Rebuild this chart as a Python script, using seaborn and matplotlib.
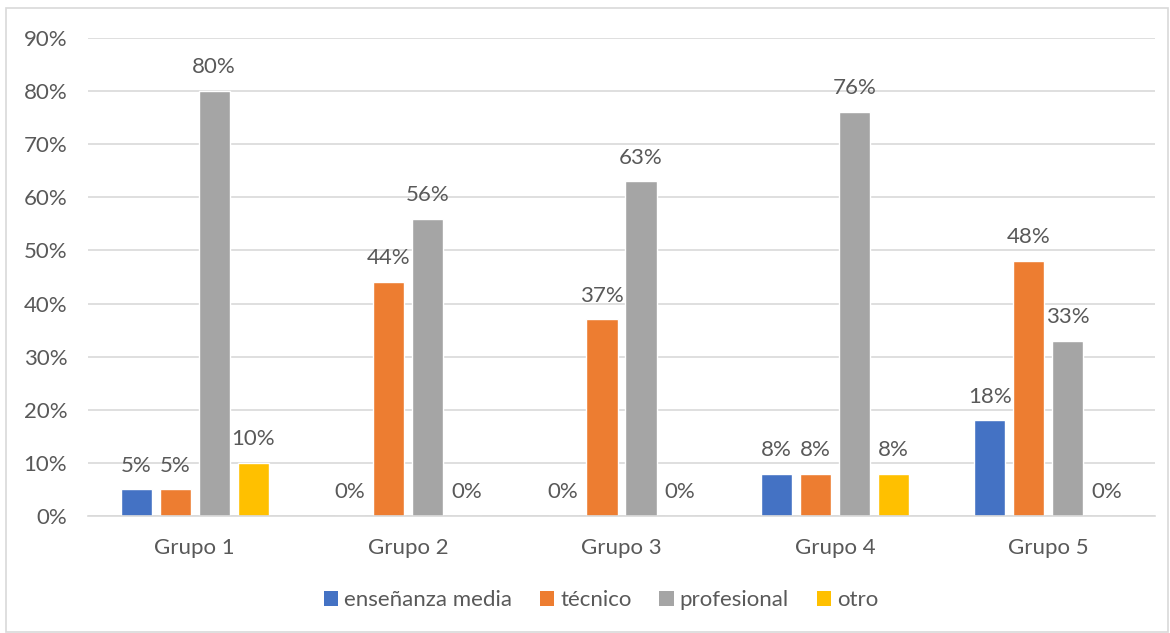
import matplotlib
matplotlib.use("Agg")
import matplotlib.pyplot as plt
from matplotlib.patches import Rectangle, Patch
import seaborn as sns
import pandas as pd

groups = ["Grupo 1", "Grupo 2", "Grupo 3", "Grupo 4", "Grupo 5"]
series = ["enseñanza media", "técnico", "profesional", "otro"]
ensenanza_media = [5, 0, 0, 8, 18]
tecnico = [5, 44, 37, 8, 48]
profesional = [80, 56, 63, 76, 33]
otro = [10, 0, 0, 8, 0]
y_ticks = [0, 10, 20, 30, 40, 50, 60, 70, 80, 90]

colors = ["#4472C4", "#ED7D31", "#A5A5A5", "#FFC000"]
text_color = "#595959"
fs = 16

rows = []
for name, vals in zip(series, [ensenanza_media, tecnico, profesional, otro]):
    for g, v in zip(groups, vals):
        rows.append({"grupo": g, "serie": name, "valor": v})
df = pd.DataFrame(rows)

sns.set_theme(style="white")
plt.rcParams["font.family"] = ["Lato", "DejaVu Sans"]

W, H = 1170, 633
fig = plt.figure(figsize=(W / 100, H / 100), dpi=100)
ax = fig.add_axes([88 / W, 1 - 516 / H, (1155 - 88) / W, (516 - 38) / H])

sns.barplot(data=df, x="grupo", y="valor", hue="serie", order=groups,
            hue_order=series, palette=colors, width=0.73, gap=0.2,
            ax=ax, legend=False, saturation=1)

for cont in ax.containers:
    ax.bar_label(cont, labels=[f"{int(round(b.get_height()))}%" for b in cont],
                 padding=10, fontsize=fs, color=text_color)

ax.set_ylim(0, 90)
ax.set_yticks(y_ticks)
ax.set_yticklabels([f"{t}%" for t in y_ticks])
ax.set_xlim(-0.5, 4.5)
ax.set_xlabel("")
ax.set_ylabel("")
ax.grid(axis="y", color="#D9D9D9", linewidth=1.2)
ax.set_axisbelow(True)
for s in ["top", "right", "left"]:
    ax.spines[s].set_visible(False)
ax.spines["bottom"].set_color("#D9D9D9")
ax.spines["bottom"].set_linewidth(1.2)
ax.tick_params(axis="y", length=0, pad=15, labelsize=fs, labelcolor=text_color)
ax.tick_params(axis="x", length=0, pad=16, labelsize=fs, labelcolor=text_color)

handles = [Patch(facecolor=c, edgecolor="none") for c in colors]
fig.legend(handles, series, loc="center", bbox_to_anchor=(601 / W, 1 - 600 / H),
           ncol=4, frameon=False, fontsize=fs, labelcolor=text_color,
           handlelength=0.64, handleheight=0.64, handletextpad=0.27,
           columnspacing=1.25)

fig.patches.append(Rectangle((6 / W, 0.002), (1168 - 6) / W, 1 - 8 / H - 0.002,
                             transform=fig.transFigure, fill=False,
                             edgecolor="#D9D9D9", linewidth=1.2))

fig.savefig("out.png", dpi=100)
